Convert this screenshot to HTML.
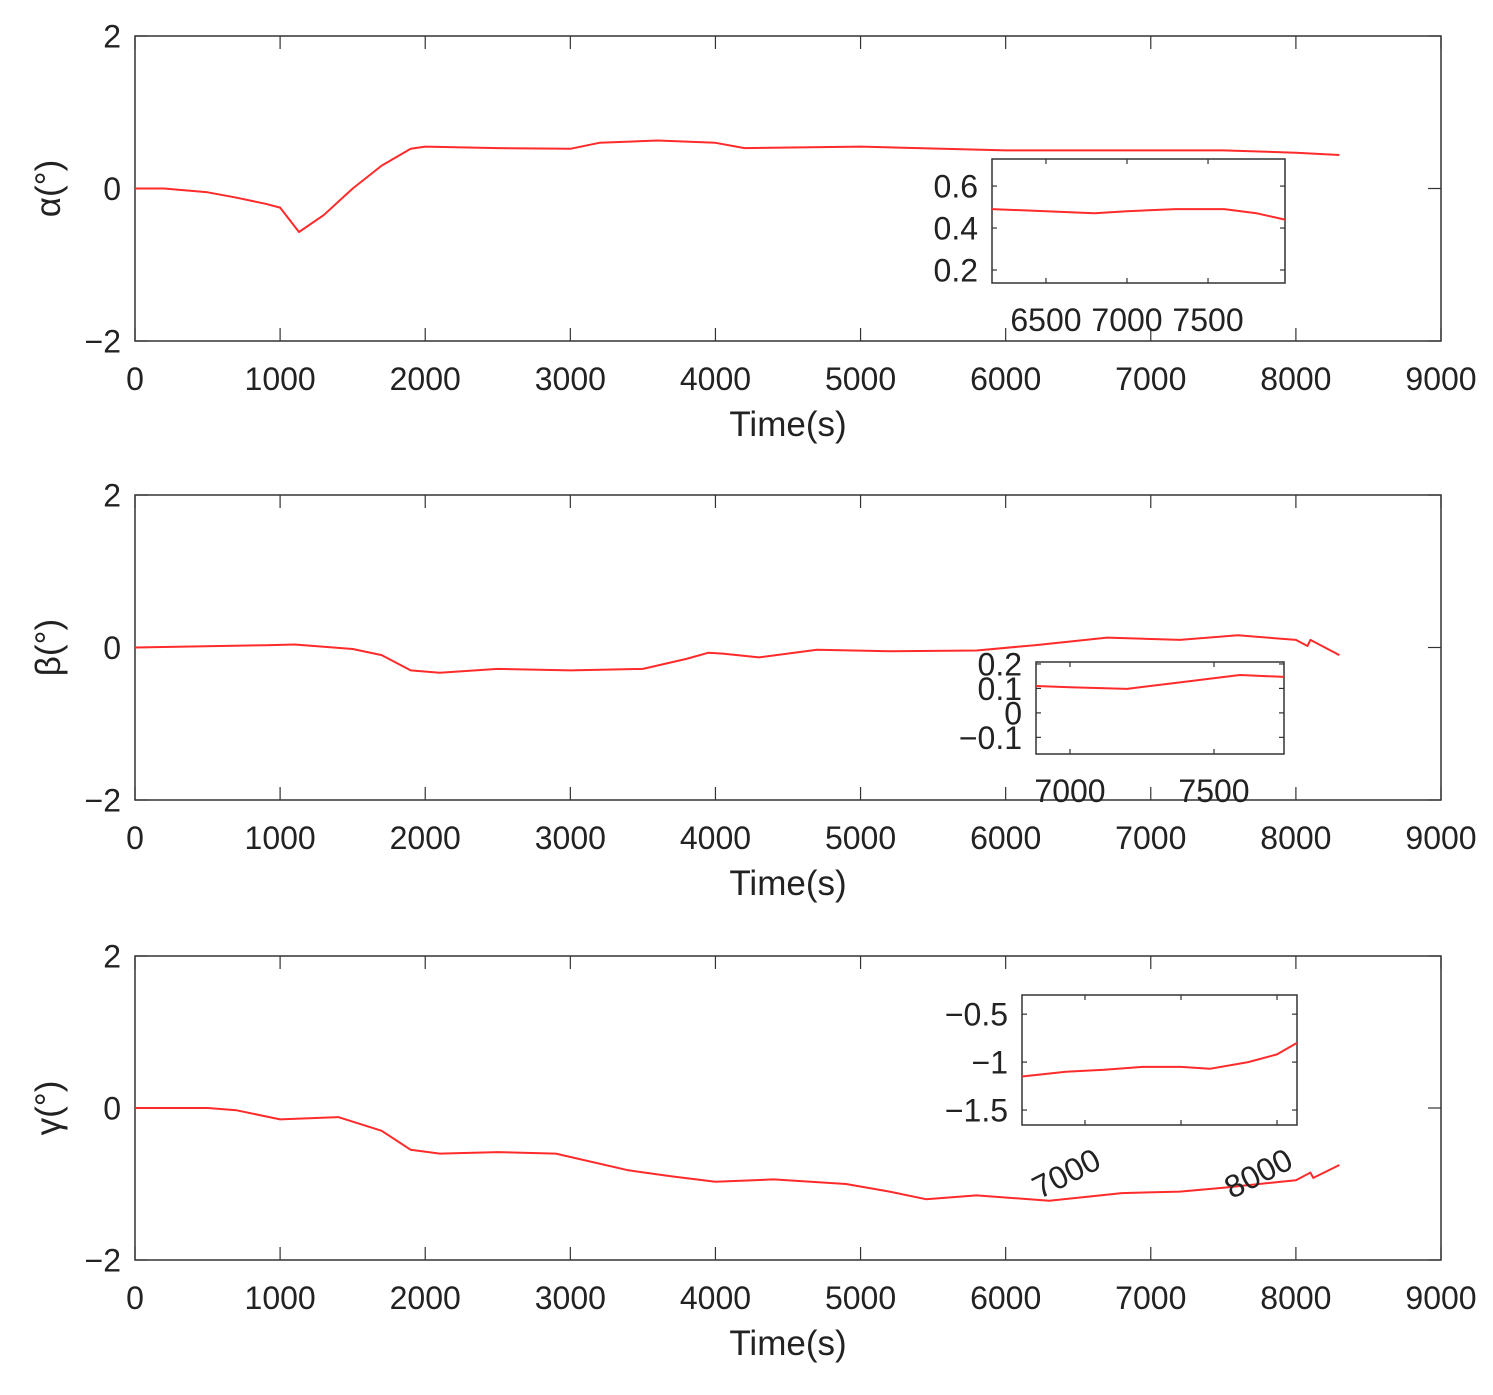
<!DOCTYPE html>
<html><head><meta charset="utf-8"><style>
body{margin:0;background:#fff}
svg{display:block;font-family:"Liberation Sans",sans-serif}
</style></head><body>
<svg id="c" width="1493" height="1395" viewBox="0 0 1493 1395"></svg>
<script>
const xTicks=[0,1000,2000,3000,4000,5000,6000,7000,8000,9000];
const yTicks=[-2,0,2];
const alphaT=[0,200,500,700,900,1000,1130,1300,1500,1700,1900,2000,2500,3000,3200,3600,4000,4200,5000,6000,7000,7500,8000,8300];
const alphaV=[0,0,-0.05,-0.12,-0.2,-0.25,-0.57,-0.35,0,0.3,0.52,0.55,0.53,0.52,0.6,0.63,0.6,0.53,0.55,0.5,0.5,0.5,0.47,0.44];
const betaT=[0,900,1100,1500,1700,1900,2100,2500,3000,3500,3800,3950,4050,4300,4700,5200,5800,6200,6700,7200,7600,8000,8080,8100,8300];
const betaV=[0,0.03,0.04,-0.02,-0.1,-0.3,-0.33,-0.28,-0.3,-0.28,-0.15,-0.07,-0.08,-0.13,-0.03,-0.05,-0.04,0.03,0.13,0.1,0.16,0.1,0.02,0.1,-0.1];
const gammaT=[0,500,700,1000,1400,1700,1900,2100,2500,2900,3400,3700,4000,4400,4900,5200,5450,5800,6300,6800,7200,7500,8000,8100,8120,8300];
const gammaV=[0,0,-0.03,-0.15,-0.12,-0.3,-0.55,-0.6,-0.58,-0.6,-0.82,-0.9,-0.97,-0.94,-1.0,-1.1,-1.2,-1.15,-1.22,-1.12,-1.1,-1.05,-0.95,-0.85,-0.92,-0.75];
const in1T=[6167,6500,6800,7000,7300,7600,7800,7975];
const in1V=[0.49,0.48,0.47,0.48,0.49,0.49,0.47,0.44];
const in1XTicks=[6500,7000,7500];
const in1YTicks=[0.2,0.4,0.6];
const in2T=[6882,7000,7198,7350,7590,7743];
const in2V=[0.11,0.105,0.098,0.12,0.155,0.147];
const in2XTicks=[7000,7500];
const in2YTicks=[-0.1,0,0.1,0.2];
const in3T=[6672,6900,7100,7300,7500,7650,7850,8000,8104];
const in3V=[-1.15,-1.1,-1.08,-1.05,-1.05,-1.07,-1.0,-0.92,-0.8];
const in3XTicks=[7000,7500,8000];
const in3YTicks=[-1.5,-1,-0.5];

const svg=document.getElementById('c');
const NS='http://www.w3.org/2000/svg';
function mk(t,a,parent){const e=document.createElementNS(NS,t);for(const k in a)e.setAttribute(k,a[k]);(parent||svg).appendChild(e);return e;}
function fmt(v){return (v<0?'\u2212':'')+Math.abs(v);}

function axes(o){
  const g=mk('g',{});
  
  
  const sx=v=>o.x0+(v-o.xmin)/(o.xmax-o.xmin)*(o.x1-o.x0);
  const sy=v=>o.y1-(v-o.ymin)/(o.ymax-o.ymin)*(o.y1-o.y0);
  const fr=mk('rect',{x:o.x0,y:o.y0,width:o.x1-o.x0,height:o.y1-o.y0,fill:'#fff',stroke:'#333','stroke-width':1.5},g);
  
  
  const tl=o.tick;
  o.xt.forEach(v=>{const x=sx(v);
    mk('line',{x1:x,x2:x,y1:o.y1,y2:o.y1-tl,stroke:'#333','stroke-width':1.2},g);
    mk('line',{x1:x,x2:x,y1:o.y0,y2:o.y0+tl,stroke:'#333','stroke-width':1.2},g);
    if(o.rot&&v===7500)return;
    let t;
    if(o.rot){const tx=x+18,ty=o.y1+o.xlo;t=mk('text',{x:tx,y:ty,'font-size':o.fs,fill:'#222','text-anchor':'end',transform:`rotate(-27 ${tx} ${ty})`},g);}
    else t=mk('text',{x:x,y:o.y1+o.xlo,'font-size':o.fs,fill:'#222','text-anchor':'middle'},g);
    t.textContent=fmt(v);
    
    
  });
  o.yt.forEach(v=>{const y=sy(v);
    mk('line',{x1:o.x0,x2:o.x0+tl,y1:y,y2:y,stroke:'#333','stroke-width':1.2},g);
    mk('line',{x1:o.x1,x2:o.x1-tl,y1:y,y2:y,stroke:'#333','stroke-width':1.2},g);
    const t=mk('text',{x:o.x0-o.ylo,y:y+o.fs*0.36,'font-size':o.fs,fill:'#222','text-anchor':'end'},g);
    t.textContent=fmt(v);
    
    
  });
  const d=o.T.map((t,i)=>(i?'L':'M')+sx(t).toFixed(1)+','+sy(o.V[i]).toFixed(1)).join(' ');
  const p=mk('path',{d:d,fill:'none',stroke:'#ff2a2a','stroke-width':2,'stroke-linejoin':'round'},g);
  
  
  if(o.xlabel){const t=mk('text',{x:(o.x0+o.x1)/2,y:o.y1+95,'font-size':35,fill:'#222','text-anchor':'middle'},g);t.textContent=o.xlabel;
    }
  if(o.ylabel){const cy=(o.y0+o.y1)/2;const t=mk('text',{x:60,y:cy,'font-size':35,fill:'#222','text-anchor':'middle',transform:`rotate(-90 60 ${cy})`},g);t.textContent=o.ylabel;
    }
}
const tops=[[36,341,alphaT,alphaV,'α(°)','alpha'],[495,800,betaT,betaV,'β(°)','beta'],[956,1260,gammaT,gammaV,'γ(°)','gamma']];
tops.forEach(p=>axes({name:p[5]+'-plot',x0:135,x1:1441,y0:p[0],y1:p[1],xmin:0,xmax:9000,ymin:-2,ymax:2,xt:xTicks,yt:yTicks,T:p[2],V:p[3],fs:32,xlo:49,ylo:14,tick:13,xlabel:'Time(s)',ylabel:p[4]}));
axes({name:'alpha-inset',x0:992,x1:1285,y0:159,y1:283,xmin:6167,xmax:7975,ymin:0.138,ymax:0.729,xt:in1XTicks,yt:in1YTicks,T:in1T,V:in1V,fs:32,xlo:48,ylo:14,tick:5});
axes({name:'beta-inset',x0:1036,x1:1284,y0:662,y1:754,xmin:6882,xmax:7743,ymin:-0.168,ymax:0.208,xt:in2XTicks,yt:in2YTicks,T:in2T,V:in2V,fs:32,xlo:48,ylo:14,tick:5});
axes({name:'gamma-inset',x0:1022,x1:1297,y0:995,y1:1125,xmin:6672,xmax:8104,ymin:-1.656,ymax:-0.30,xt:in3XTicks,yt:in3YTicks,T:in3T,V:in3V,fs:32,xlo:42,ylo:14,tick:5,rot:true});
</script>
</body></html>
